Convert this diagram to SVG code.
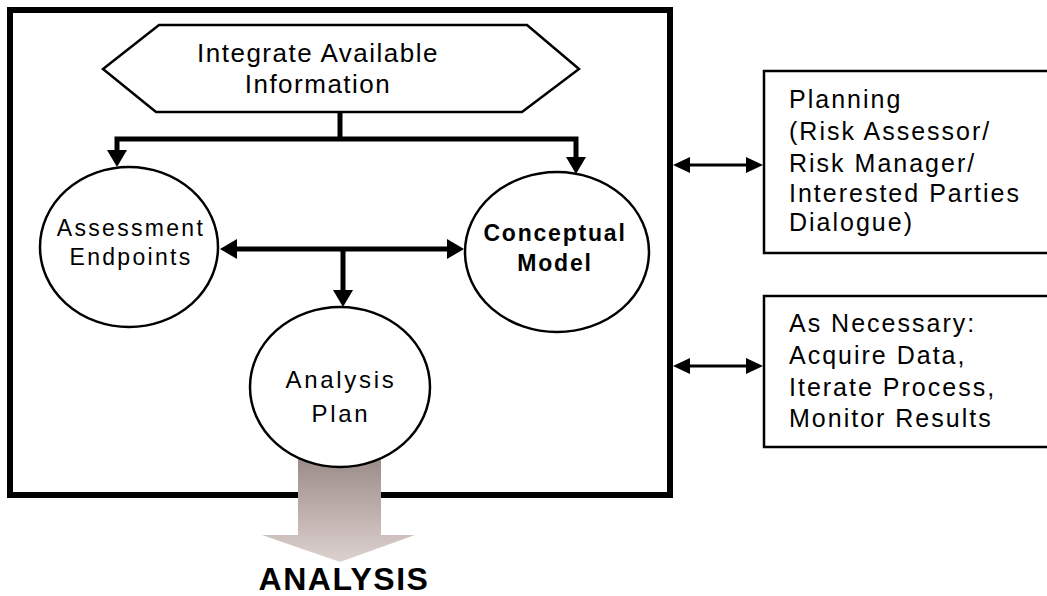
<svg xmlns="http://www.w3.org/2000/svg" width="1047" height="596" viewBox="0 0 1047 596">
  <style>
    .txt { font-family: "Liberation Sans", Arial, sans-serif; fill: #000; }
    .node { fill: #fff; stroke: #000; stroke-width: 2.5; }
    .lbl { font-size: 23px; letter-spacing: 2.3px; text-anchor: middle; }
    .side { font-size: 25px; letter-spacing: 2px; }
    .thick { fill: none; stroke: #000; stroke-width: 5; stroke-linejoin: miter; }
    .thin { fill: none; stroke: #000; stroke-width: 3; }
  </style>
  <defs>
    <marker id="head-lg" markerUnits="userSpaceOnUse" markerWidth="17" markerHeight="20" refX="0" refY="10" orient="auto-start-reverse">
      <path d="M0,0 L17,10 L0,20 z" fill="#000"/>
    </marker>
    <marker id="head-sm" markerUnits="userSpaceOnUse" markerWidth="17" markerHeight="16" refX="0" refY="8" orient="auto-start-reverse">
      <path d="M0,0 L17,8 L0,16 z" fill="#000"/>
    </marker>
    <linearGradient id="shade" x1="0" y1="455" x2="0" y2="562" gradientUnits="userSpaceOnUse">
      <stop offset="0" stop-color="#998a86"/>
      <stop offset="1" stop-color="#ddd1cf"/>
    </linearGradient>
  </defs>

  <!-- problem formulation frame -->
  <g id="frame">
    <rect x="10" y="10" width="660" height="485" fill="#fff" stroke="#000" stroke-width="6"/>
  </g>

  <!-- broad arrow leading out to analysis -->
  <g id="to-analysis">
    <path d="M298,455 H381 V535 H415 L340,562 L262,535 H298 Z" fill="url(#shade)"/>
    <text class="txt" x="344" y="590" font-size="32" font-weight="bold" letter-spacing="1.5" text-anchor="middle">ANALYSIS</text>
  </g>

  <g id="connectors">
    <path class="thick" d="M340,112 V139"/>
    <path class="thick" d="M117,150 V139 H576 V157" marker-start="url(#head-lg)" marker-end="url(#head-lg)"/>
    <path class="thick" d="M237,249 H447" marker-start="url(#head-lg)" marker-end="url(#head-lg)"/>
    <path class="thick" d="M343,249 V290" marker-end="url(#head-lg)"/>
    <path class="thin" d="M690,165 H746" marker-start="url(#head-sm)" marker-end="url(#head-sm)"/>
    <path class="thin" d="M690,366 H746" marker-start="url(#head-sm)" marker-end="url(#head-sm)"/>
  </g>

  <g id="integrate">
    <polygon class="node" points="159,25 527,25 579,69 522,112 156,112 103,69"/>
    <text class="txt" x="318" y="62" font-size="26" letter-spacing="1.5" text-anchor="middle">Integrate Available</text>
    <text class="txt" x="318" y="93" font-size="26" letter-spacing="1.5" text-anchor="middle">Information</text>
  </g>

  <g id="endpoints">
    <ellipse class="node" cx="129" cy="247" rx="89" ry="80"/>
    <text class="txt lbl" x="131" y="236">Assessment</text>
    <text class="txt lbl" x="131" y="265">Endpoints</text>
  </g>

  <g id="conceptual">
    <ellipse class="node" cx="557" cy="252" rx="92" ry="80"/>
    <text class="txt lbl" x="555" y="241" font-weight="bold" style="letter-spacing:1.8px">Conceptual</text>
    <text class="txt lbl" x="555" y="271" font-weight="bold" style="letter-spacing:1.8px">Model</text>
  </g>

  <g id="plan">
    <ellipse class="node" cx="340" cy="387" rx="90" ry="80"/>
    <text class="txt lbl" x="341" y="388" style="font-size:24px;letter-spacing:2.7px">Analysis</text>
    <text class="txt lbl" x="341" y="422" style="font-size:24px;letter-spacing:2.7px">Plan</text>
  </g>

  <g id="planning">
    <rect class="node" x="764" y="71" width="300" height="182"/>
    <text class="txt side" x="789" y="108">Planning</text>
    <text class="txt side" x="789" y="140">(Risk Assessor/</text>
    <text class="txt side" x="789" y="172">Risk Manager/</text>
    <text class="txt side" x="789" y="202">Interested Parties</text>
    <text class="txt side" x="789" y="231">Dialogue)</text>
  </g>

  <g id="as-necessary">
    <rect class="node" x="764" y="296" width="300" height="151"/>
    <text class="txt side" x="789" y="332">As Necessary:</text>
    <text class="txt side" x="789" y="364">Acquire Data,</text>
    <text class="txt side" x="789" y="396">Iterate Process,</text>
    <text class="txt side" x="789" y="427">Monitor Results</text>
  </g>
</svg>
